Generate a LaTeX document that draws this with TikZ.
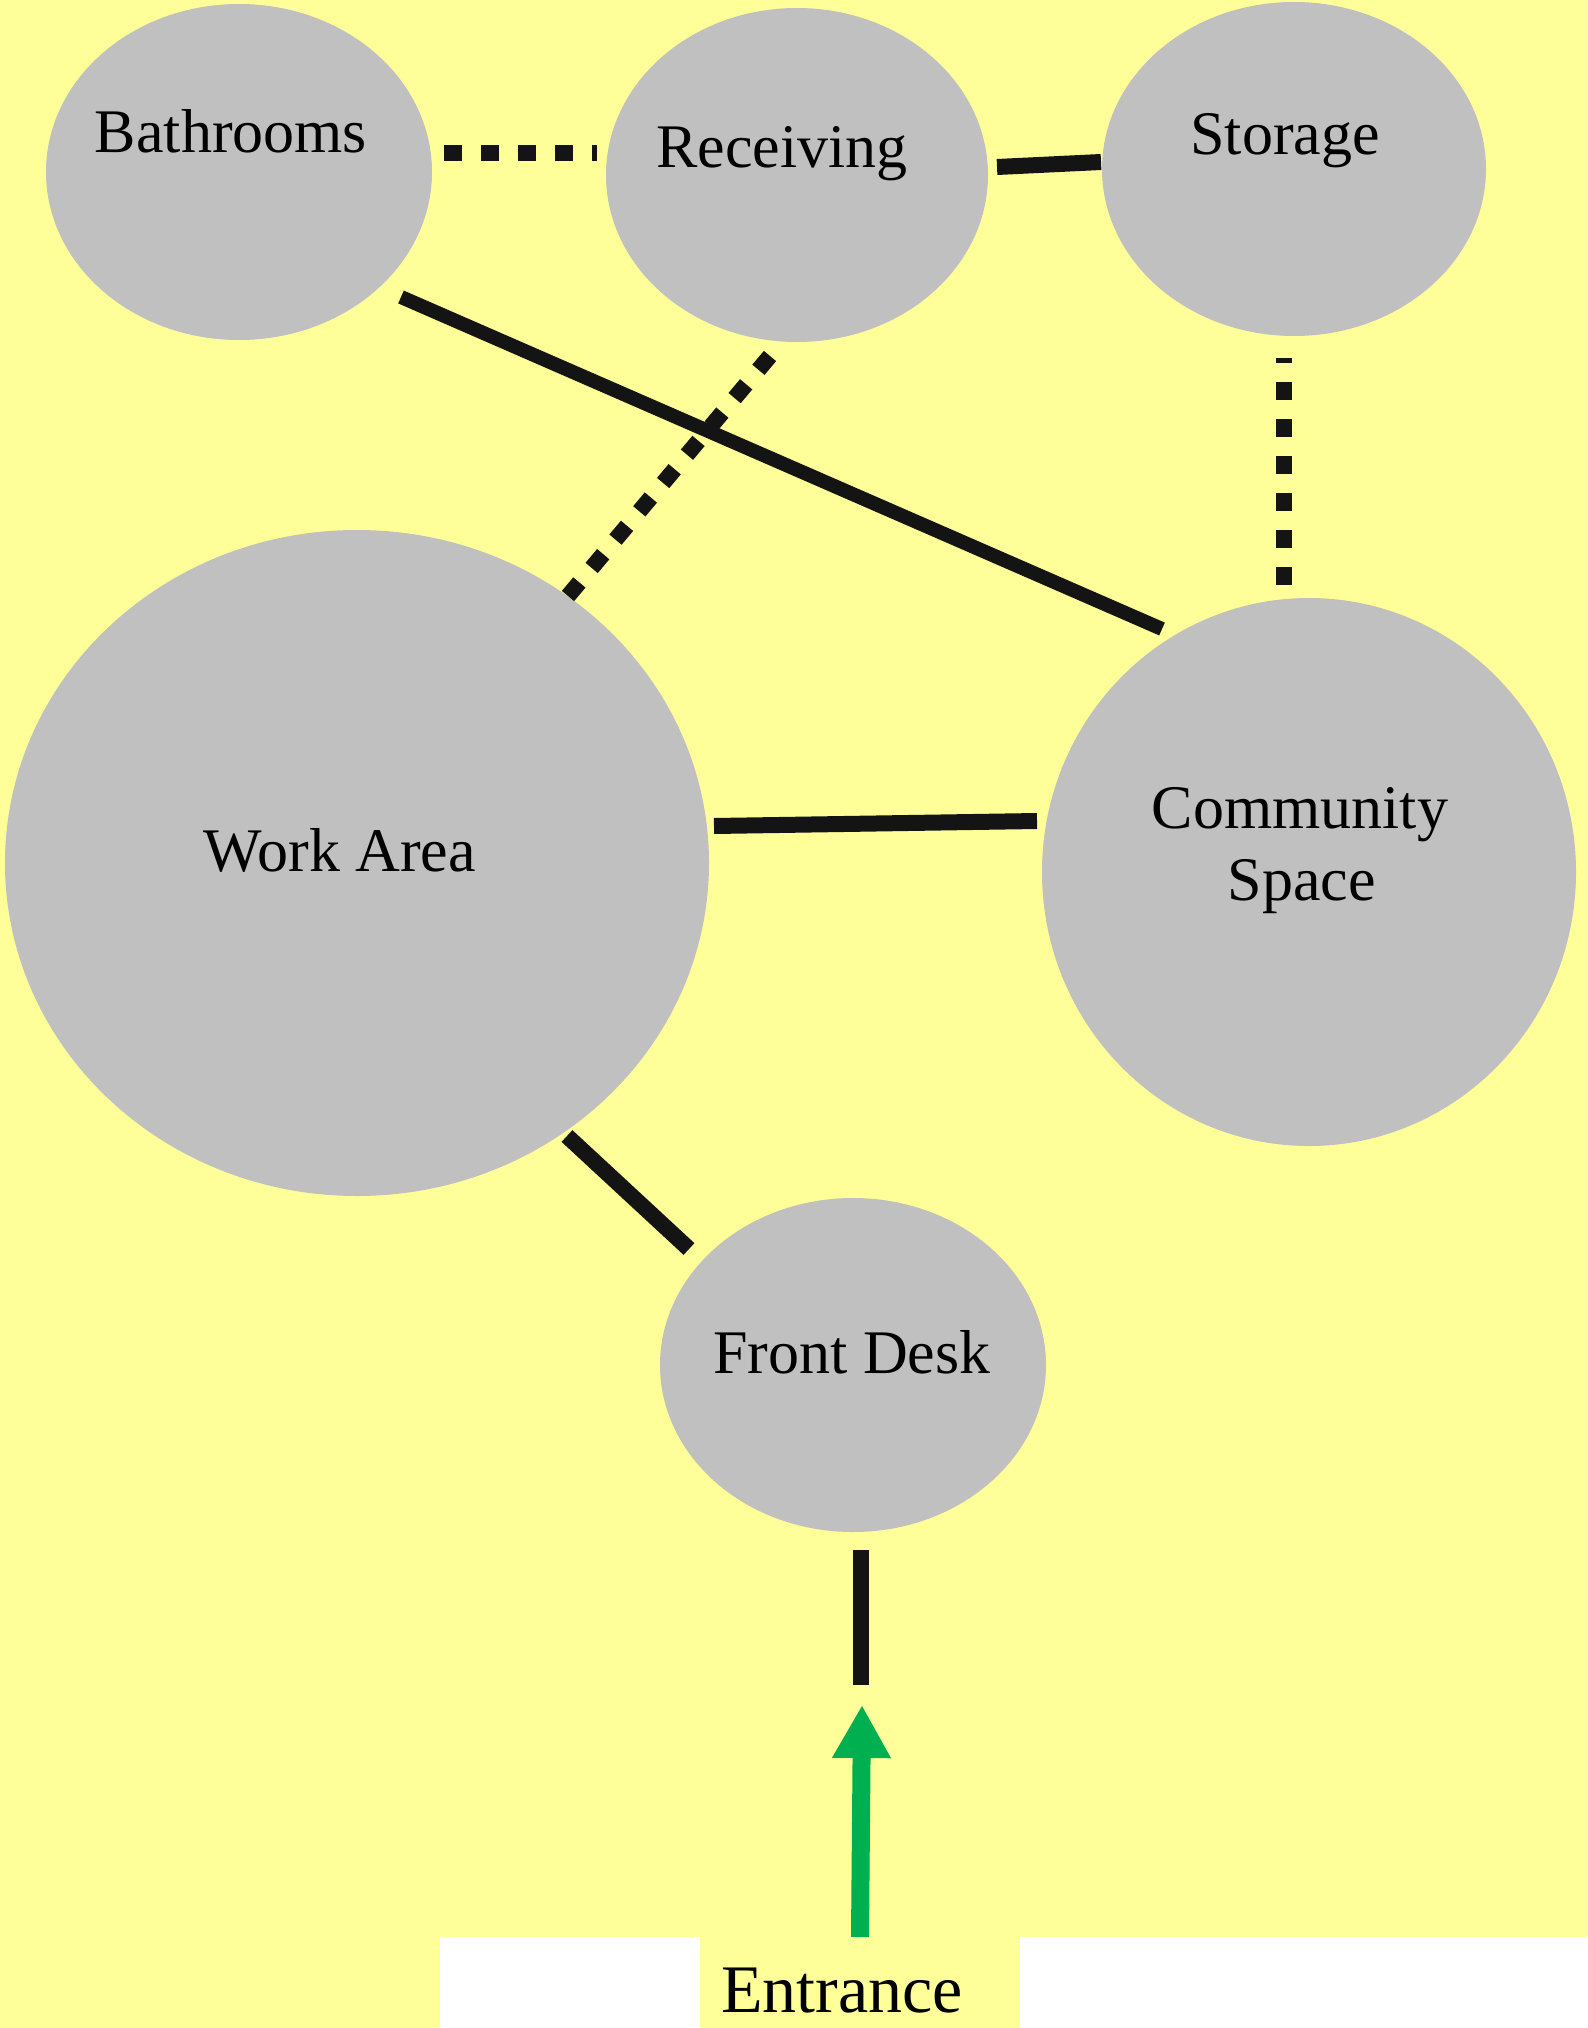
\documentclass[tikz,border=0pt]{standalone}
\usepackage{fontspec}
\setmainfont{Liberation Serif}
\usetikzlibrary{shapes.geometric,arrows.meta}
\definecolor{bgyellow}{RGB}{255,255,153}
\definecolor{roomgray}{RGB}{192,192,192}
\definecolor{entgreen}{RGB}{0,176,80}
\tikzset{
  room/.style={ellipse, fill=roomgray, draw=none, inner sep=0pt},
  lbl/.style={anchor=base, inner sep=0pt, font=\fontsize{62}{72}\selectfont, text=black},
  solidlink/.style={line width=16pt, draw=black!92},
  thinlink/.style={line width=14pt, draw=black!92},
  dotlink/.style={line width=16pt, draw=black!92, dash pattern=on 18pt off 19pt},
}
\begin{document}
\begin{tikzpicture}[x=1pt,y=-1pt]
\useasboundingbox (0,0) rectangle (1587,2028);
\fill[bgyellow] (0,0) rectangle (1587,2028);
\fill[white] (440,1937) rectangle (700,2028);
\fill[white] (1020,1937) rectangle (1587,2028);

% rooms
\node[room, minimum width=386pt, minimum height=336pt] (bath) at (239,172) {};
\node[room, minimum width=382pt, minimum height=334pt] (recv) at (797,175) {};
\node[room, minimum width=384pt, minimum height=334pt] (stor) at (1294,169) {};
\node[room, minimum width=704pt, minimum height=666pt] (work) at (357,863) {};
\node[room, minimum width=534pt, minimum height=548pt] (comm) at (1309,872) {};
\node[room, minimum width=386pt, minimum height=334pt] (front) at (853,1365) {};

% labels
\node[lbl] (bathT) at (231,153) {Bathrooms};
\node[lbl] (recvT) at (782,168) {Receiving};
\node[lbl] (storT) at (1285,155) {Storage};
\node[lbl] (workT) at (340,871) {Work Area};
\node[lbl] (commT1) at (1300,828) {Community};
\node[lbl] (commT2) at (1302,900) {Space};
\node[lbl] (frontT) at (852,1373) {Front Desk};
\node[lbl, font=\fontsize{68}{80}\selectfont] (entT) at (842,2012) {Entrance};

% connectors
\draw[dotlink] ([shift={(205,-19)}]bath.center) -- ([shift={(-200,-22)}]recv.center);
\draw[solidlink] ([shift={(200,-8)}]recv.center) -- ([shift={(-193,-7)}]stor.center);
\draw[thinlink] ([shift={(162,125)}]bath.center) -- ([shift={(-147,-243)}]comm.center);
\draw[dotlink] ([shift={(-27,181)}]recv.center) -- ([shift={(211,-267)}]work.center);
\draw[dotlink] ([shift={(-25,-287)}]comm.center) -- ([shift={(-10,189)}]stor.center);
\draw[solidlink] ([shift={(357,-37)}]work.center) -- ([shift={(-272,-51)}]comm.center);
\draw[solidlink] ([shift={(210,273)}]work.center) -- ([shift={(-164,-116)}]front.center);

% entrance
\coordinate (doorEnd) at (861,1685);
\coordinate (arrowBase) at (860,1937);
\coordinate (arrowTip) at (862,1705);
\draw[solidlink] ([shift={(8,185)}]front.center) -- (doorEnd);
\draw[line width=18pt, entgreen, -{Triangle[length=53pt,width=55pt]}] (arrowBase) -- (arrowTip);
\end{tikzpicture}
\end{document}
